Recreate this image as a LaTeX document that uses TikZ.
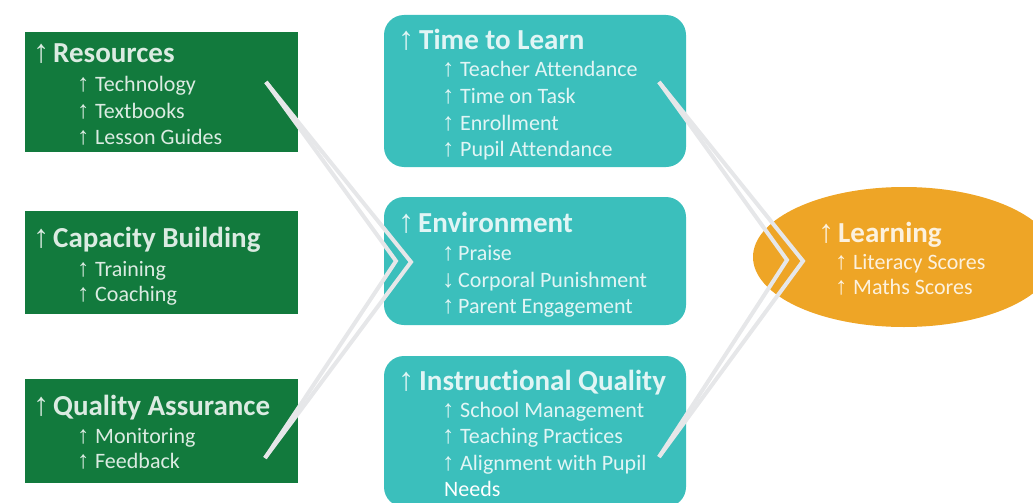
\documentclass[tikz,border=0pt]{standalone}
\usepackage{fontspec}
\setmainfont{Carlito}[Ligatures={NoCommon}]
\newfontfamily\arw{Liberation Sans}
\usetikzlibrary{shapes.geometric}
\definecolor{boxgreen}{HTML}{127A3D}
\definecolor{boxteal}{HTML}{3BBFBC}
\definecolor{boxorange}{HTML}{EEA526}
\definecolor{chevgray}{HTML}{E6E7E9}
\newcommand\glyph[1]{{\pgfsetfillopacity{0.85}\scalebox{1.12}[1.12]{\arw #1}}}
\newcommand\upa[1]{\makebox[#1][l]{\glyph{↑}}}
\newcommand\dna[1]{\makebox[#1][l]{\glyph{↓}}}
\tikzset{
  greenbox/.style={draw=none,fill=boxgreen},
  tealbox/.style={draw=none,fill=boxteal,rounded corners=20pt},
  orangeell/.style={draw=none,fill=boxorange},
  ttl/.style={anchor=base west,inner sep=0pt,text=white,font=\fontsize{29}{34}\selectfont\bfseries},
  itm/.style={anchor=base west,inner sep=0pt,text=white,font=\fontsize{22}{26}\selectfont},
  chev/.style={draw=chevgray,line width=4pt,line join=miter}
}
\begin{document}
\begin{tikzpicture}[x=1pt,y=-1pt]
\useasboundingbox (0,0) rectangle (1033,503);
% green boxes
\path[greenbox] (25,32) rectangle (298,152) node[pos=0.5,inner sep=0] (res) {};
\path[greenbox] (25,211) rectangle (298,314) node[pos=0.5,inner sep=0] (cap) {};
\path[greenbox] (25,379) rectangle (298,483) node[pos=0.5,inner sep=0] (qa) {};
% teal boxes
\path[tealbox] (384,15) rectangle (686,167) node[pos=0.5,inner sep=0] (ttlearn) {};
\path[tealbox] (384,197) rectangle (686,325) node[pos=0.5,inner sep=0] (env) {};
\path[tealbox] (384,356) rectangle (686,507) node[pos=0.5,inner sep=0] (iq) {};
% ellipse
\node[orangeell,ellipse,minimum width=302pt,minimum height=140pt,inner sep=0] (learn) at (904,257) {};
% chevrons
\coordinate (lt) at (266,82);
\coordinate (la1) at (396,261);
\coordinate (la2) at (411,262);
\coordinate (lb) at (265,458);
\coordinate (rt) at (659,82);
\coordinate (ra1) at (787,260);
\coordinate (ra2) at (803,261);
\coordinate (rb) at (659,457);
\draw[chev] (lt) -- (la1) -- (lb);
\draw[chev] (lt) -- (la2) -- (lb);
\draw[chev] (rt) -- (ra1) -- (rb);
\draw[chev] (rt) -- (ra2) -- (rb);
% texts: Resources
\node[ttl] (resT) at (33,63) {\upa{20pt}Resources};
\node[itm] (res1) at (77,92) {\upa{18pt}Technology};
\node[itm] (res2) at (77,118) {\upa{18pt}Textbooks};
\node[itm] (res3) at (77,144) {\upa{18pt}Lesson Guides};
% Capacity
\node[ttl] (capT) at (33,247) {\upa{20pt}Capacity Building};
\node[itm] (cap1) at (77,276) {\upa{18pt}Training};
\node[itm] (cap2) at (77,301) {\upa{18pt}Coaching};
% Quality Assurance
\node[ttl] (qaT) at (33,415) {\upa{20pt}Quality Assurance};
\node[itm] (qa1) at (77,443) {\upa{18pt}Monitoring};
\node[itm] (qa2) at (77,468) {\upa{18pt}Feedback};
% Time to Learn
\node[ttl] (tlT) at (398,49) {\upa{21pt}Time to Learn};
\node[itm] (tl1) at (442,77) {\upa{18pt}Teacher Attendance};
\node[itm] (tl2) at (442,103) {\upa{18pt}Time on Task};
\node[itm] (tl3) at (442,130) {\upa{18pt}Enrollment};
\node[itm] (tl4) at (442,156) {\upa{18pt}Pupil Attendance};
% Environment
\node[ttl] (envT) at (398,232) {\upa{20pt}Environment};
\node[itm] (env1) at (442,260) {\upa{16pt}Praise};
\node[itm] (env2) at (442,287) {\dna{16pt}Corporal Punishment};
\node[itm] (env3) at (442,313) {\upa{16pt}Parent Engagement};
% Instructional Quality
\node[ttl] (iqT) at (398,390) {\upa{21pt}Instructional Quality};
\node[itm] (iq1) at (442,417) {\upa{18pt}School Management};
\node[itm] (iq2) at (442,443) {\upa{18pt}Teaching Practices};
\node[itm] (iq3) at (442,470) {\upa{18pt}Alignment with Pupil};
\node[itm] (iq4) at (444,496) {Needs};
% Learning
\node[ttl] (lnT) at (818,242) {\upa{20pt}Learning};
\node[itm] (ln1) at (835,269) {\upa{18pt}Literacy Scores};
\node[itm] (ln2) at (835,294) {\upa{18pt}Maths Scores};
\end{tikzpicture}
\end{document}
